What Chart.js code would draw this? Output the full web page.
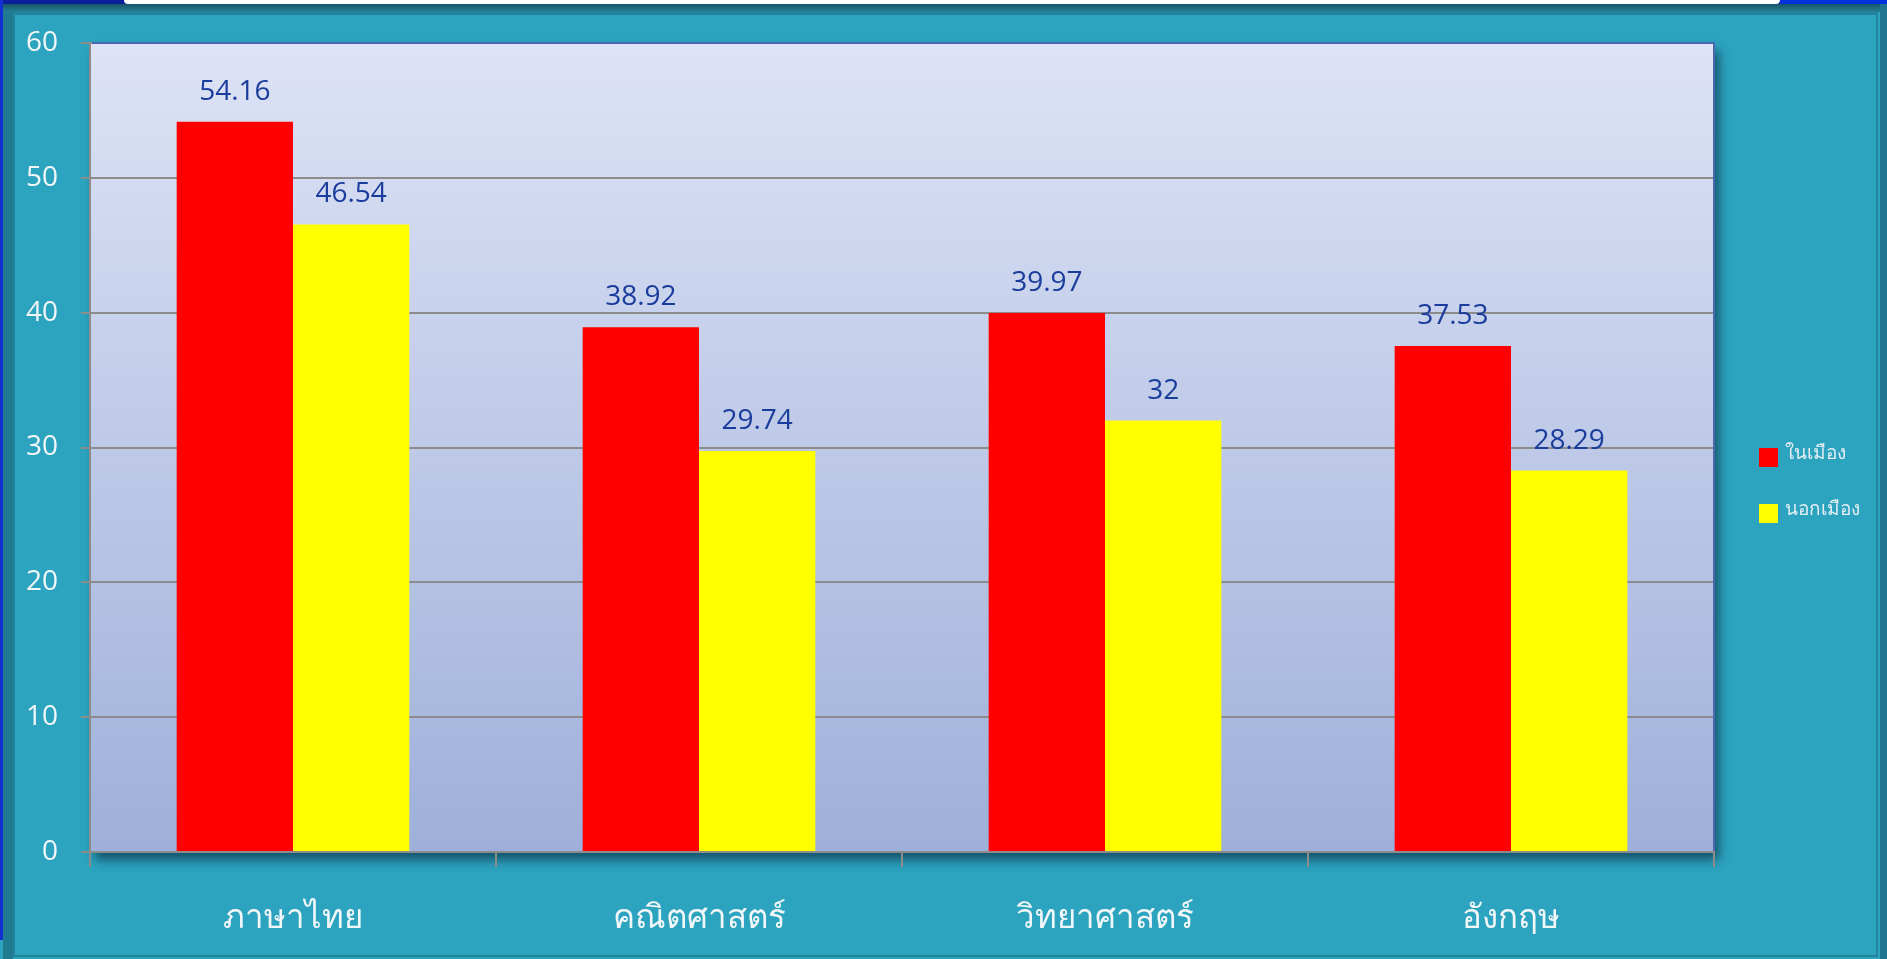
<!DOCTYPE html>
<html>
<head>
<meta charset="utf-8">
<script src="https://cdn.jsdelivr.net/npm/chart.js@4.4.1/dist/chart.umd.min.js"></script>
<style>
  html, body { margin: 0; padding: 0; width: 1887px; height: 959px; overflow: hidden; background: #2ca3bf; }
  .frame { position: absolute; left: 0; top: 0; width: 1887px; height: 959px; }
  .edge-left { position: absolute; left: 0; top: 0; width: 3px; height: 940px; background: #1530d0; }
  .edge-left2 { position: absolute; left: 3px; top: 4px; width: 10px; height: 955px; background: #217b90; }
  .edge-top { position: absolute; left: 0; top: 0; width: 1887px; height: 4px; background: #0a1d9a; }
  .edge-top-r { position: absolute; left: 1780px; top: 0; width: 107px; height: 4px; background: #0033dd; }
  .white-bar { position: absolute; left: 124px; top: 0; width: 1656px; height: 4px; background: #fff; border-radius: 0 0 6px 6px; }
  .edge-top2 { position: absolute; left: 3px; top: 4px; width: 1877px; height: 8px; background: linear-gradient(#19566a, #237f95); }
  .edge-right { position: absolute; left: 1880px; top: 4px; width: 7px; height: 955px; background: #1f7590; }
  .inner { position: absolute; left: 13px; top: 12px; width: 1861px; height: 940px; border: 2px solid #22849c; border-top-width: 3px; }
  #chart { position: absolute; left: 0; top: 0; }
  #legend { position: absolute; left: 1759px; top: 448px; font-family: 'Open Sans', 'Noto Sans', sans-serif; font-size: 19px; color: #e4eef4; }
  #legend .item { display: flex; align-items: center; height: 19px; margin-bottom: 37px; }
  #legend .box { width: 19px; height: 19px; margin-right: 7px; }
  #legend span.t { position: relative; top: -6px; }
</style>
</head>
<body>
<div class="frame">
  <div class="edge-top"></div>
  <div class="edge-top-r"></div>
  <div class="white-bar"></div>
  <div class="edge-left"></div>
  <div class="edge-left2"></div>
  <div class="edge-top2"></div>
  <div class="edge-right"></div>
  <div class="inner"></div>
</div>
<canvas id="chart" width="1887" height="959"></canvas>
<div id="legend"></div>
<script>
// data
const subjects = ['ภาษาไทย', 'คณิตศาสตร์', 'วิทยาศาสตร์', 'อังกฤษ'];
const seriesNames = ['ในเมือง', 'นอกเมือง'];
const inCity = [54.16, 38.92, 39.97, 37.53];
const outCity = [46.54, 29.74, 32, 28.29];
const yTicks = [0, 10, 20, 30, 40, 50, 60];

const colors = {
  red: '#ff0000',
  yellow: '#ffff00',
  grid: '#8c8c8c',
  label: '#1a3c9c',
  frameBlue: '#4a66ad',
  white: '#f2f7fa'
};

// plot area: gradient fill + drop shadow
const plotBackground = {
  id: 'plotBackground',
  beforeDraw(chart) {
    const { ctx, chartArea: a } = chart;
    const g = ctx.createLinearGradient(0, a.top, 0, a.bottom);
    g.addColorStop(0, '#dee3f6');
    g.addColorStop(1, '#9eb0d9');
    ctx.save();
    ctx.shadowColor = 'rgba(10, 40, 60, 0.65)';
    ctx.shadowBlur = 10;
    ctx.shadowOffsetX = 5;
    ctx.shadowOffsetY = 8;
    ctx.fillStyle = g;
    ctx.fillRect(a.left, a.top, a.right - a.left, a.bottom - a.top);
    ctx.restore();
  },
  afterDraw(chart) {
    const { ctx, chartArea: a } = chart;
    ctx.save();
    ctx.strokeStyle = colors.frameBlue;
    ctx.lineWidth = 2;
    ctx.beginPath();
    ctx.moveTo(a.left + 2, a.top);
    ctx.lineTo(a.right, a.top);
    ctx.lineTo(a.right, a.bottom - 1);
    ctx.stroke();
    ctx.restore();
  }
};

// value labels above bars
const valueLabels = {
  id: 'valueLabels',
  afterDatasetsDraw(chart) {
    const { ctx } = chart;
    ctx.save();
    ctx.font = "28px 'Open Sans', 'Noto Sans', sans-serif";
    ctx.fillStyle = colors.label;
    ctx.textAlign = 'center';
    ctx.textBaseline = 'middle';
    chart.data.datasets.forEach((ds, i) => {
      chart.getDatasetMeta(i).data.forEach((bar, j) => {
        ctx.fillText(String(ds.data[j]), bar.x, bar.y - 30);
      });
    });
    ctx.restore();
  }
};

const chart = new Chart(document.getElementById('chart'), {
  type: 'bar',
  data: {
    labels: subjects,
    datasets: [
      { label: seriesNames[0], data: inCity, backgroundColor: colors.red },
      { label: seriesNames[1], data: outCity, backgroundColor: colors.yellow }
    ]
  },
  options: {
    responsive: false,
    animation: false,
    layout: { padding: { left: 0, top: 43, right: 173, bottom: 0 } },
    categoryPercentage: 0.573,
    barPercentage: 1,
    plugins: {
      legend: { display: false },
      tooltip: { enabled: false }
    },
    scales: {
      x: {
        grid: {
          display: true,
          offset: true,
          drawOnChartArea: false,
          color: colors.grid,
          lineWidth: 2,
          tickLength: 15
        },
        border: { color: colors.grid, width: 2 },
        ticks: {
          color: colors.white,
          font: { family: "'Noto Sans', 'Open Sans', sans-serif", size: 33 },
          padding: 32
        },
        afterFit(scale) { scale.height = 107; }
      },
      y: {
        min: 0,
        max: 60,
        afterBuildTicks(scale) { scale.ticks = yTicks.map(v => ({ value: v })); },
        grid: { color: colors.grid, lineWidth: 2, tickLength: 9 },
        border: { color: colors.grid, width: 2 },
        ticks: {
          color: colors.white,
          font: { family: "'Open Sans', 'Noto Sans', sans-serif", size: 28 },
          padding: 23
        },
        afterFit(scale) { scale.width = 90; }
      }
    }
  },
  plugins: [plotBackground, valueLabels]
});

// html legend from the datasets
const legendEl = document.getElementById('legend');
chart.data.datasets.forEach(ds => {
  const item = document.createElement('div');
  item.className = 'item';
  item.innerHTML = '<div class="box" style="background:' + ds.backgroundColor + '"></div><span class="t">' + ds.label + '</span>';
  legendEl.appendChild(item);
});
</script>
</body>
</html>
